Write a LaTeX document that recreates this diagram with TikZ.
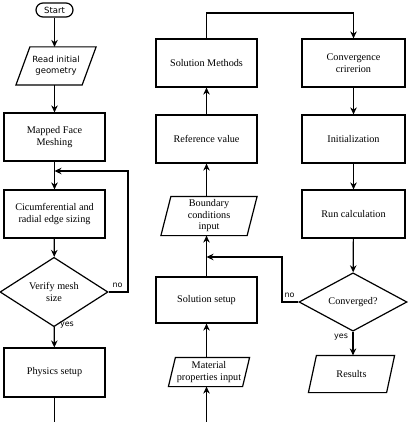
\documentclass[tikz,border=0pt]{standalone}
\usepackage{fontspec}
\setmainfont{Liberation Serif}
\newfontfamily\lblfont{DejaVu Sans}
\usetikzlibrary{shapes.geometric,arrows.meta}
\tikzset{
  box/.style={draw, rectangle, minimum width=101pt, minimum height=48pt, align=center,
    inner sep=2pt, font=\fontsize{10.2}{12.5}\selectfont},
  pbox/.style={rectangle, inner sep=1pt, align=center, font=\fontsize{10.2}{11.5}\selectfont},
  dbox/.style={draw, diamond, inner sep=0pt, minimum width=108pt, minimum height=55pt,
    align=center, font=\fontsize{10.2}{12.5}\selectfont},
  lbl/.style={font=\lblfont\fontsize{8}{9}\selectfont, inner sep=0pt},
  flow/.style={-{Stealth[length=7pt,width=6.5pt]}},
}
\begin{document}
\begin{tikzpicture}[x=1pt, y=-1pt, line width=1.2pt]
\fill[white] (0,0) rectangle (407,422);
\useasboundingbox (0,0) rectangle (407,422);

% left column
\node[draw, rounded corners=7pt, minimum width=37pt, minimum height=14pt, inner sep=1pt,
  font=\lblfont\fontsize{8.5}{10}\selectfont] (start) at (54.5,10) {Start};
\node[pbox, minimum width=79pt, minimum height=37pt, font=\lblfont\fontsize{8.5}{11}\selectfont] (read) at (56,66) {Read initial\\geometry};
\draw (read.south west) -- ([xshift=14pt]read.north west) -- (read.north east) -- ([xshift=-14pt]read.south east) -- cycle;
\node[box] (mapped) at (54.5,137) {Mapped Face\\Meshing};
\node[box] (cicum) at (54.5,214) {Cicumferential and\\radial edge sizing};
\node[dbox] (verify) at (54,292) {Verify mesh\\size};
\node[box, minimum height=49pt] (physics) at (54.5,372.5) {Physics setup};
\coordinate (lbot) at (54.5,422);
\coordinate (fbR) at (128,171);
\coordinate (fbL) at (54.5,171);

% middle column
\node[box] (sm) at (206.5,63) {Solution Methods};
\node[box] (ref) at (206.5,139) {Reference value};
\node[pbox, minimum width=95pt, minimum height=38pt] (bc) at (209,216) {Boundary\\conditions\\input};
\draw (bc.south west) -- ([xshift=10pt]bc.north west) -- (bc.north east) -- ([xshift=-10pt]bc.south east) -- cycle;
\node[box, minimum height=46pt] (setup) at (206.5,300) {Solution setup};
\node[pbox, minimum width=80pt, minimum height=28pt] (mat) at (209,372) {Material\\properties input};
\draw (mat.south west) -- ([xshift=7pt]mat.north west) -- (mat.north east) -- ([xshift=-7pt]mat.south east) -- cycle;
\coordinate (mbot) at (206.5,422);
\coordinate (top) at (206.5,13);
\coordinate (fbM) at (282,257);

% right column
\node[box, minimum width=103pt] (conv) at (353.5,63) {Convergence\\crirerion};
\node[box, minimum width=103pt] (init) at (353.5,139) {Initialization};
\node[box, minimum width=103pt] (run) at (353.5,214) {Run calculation};
\node[dbox, minimum height=54pt] (cvg) at (353,302) {Converged?};
\node[pbox, minimum width=85pt, minimum height=36pt] (res) at (351.5,374) {Results};
\draw (res.south west) -- ([xshift=8pt]res.north west) -- (res.north east) -- ([xshift=-8pt]res.south east) -- cycle;

% connectors left
\draw[flow] (start) -- (start |- read.north);
\draw[flow] (start |- read.south) -- (mapped);
\draw[flow] (mapped) -- (cicum);
\draw[flow] (cicum) -- (verify);
\draw[flow] (verify.east) -- (verify.east -| fbR) -- (fbR) -- (fbL);
\draw[flow] (verify) -- (physics);
\draw (physics) -- (lbot);
\node[lbl] at (117.5,285) {no};
\node[lbl] at (67,325) {yes};

% connectors middle
\draw[flow] (mbot) -- (mbot |- mat.south);
\draw[flow] (mbot |- mat.north) -- (setup);
\draw[flow] (setup) -- (setup.north |- bc.south);
\draw[flow] (setup.north |- bc.north) -- (ref);
\draw[flow] (ref) -- (sm);
\draw[flow] (sm) -- (top) -- (top -| conv) -- (conv);
\draw[flow] (cvg.west) -- (cvg.west -| fbM) -- (fbM) -- (fbM -| sm);

% connectors right
\draw[flow] (conv) -- (init);
\draw[flow] (init) -- (run);
\draw[flow] (run) -- (cvg);
\draw[flow] (cvg) -- (cvg.south |- res.north);
\node[lbl] at (289.5,295) {no};
\node[lbl] at (341,337) {yes};
\end{tikzpicture}
\end{document}
